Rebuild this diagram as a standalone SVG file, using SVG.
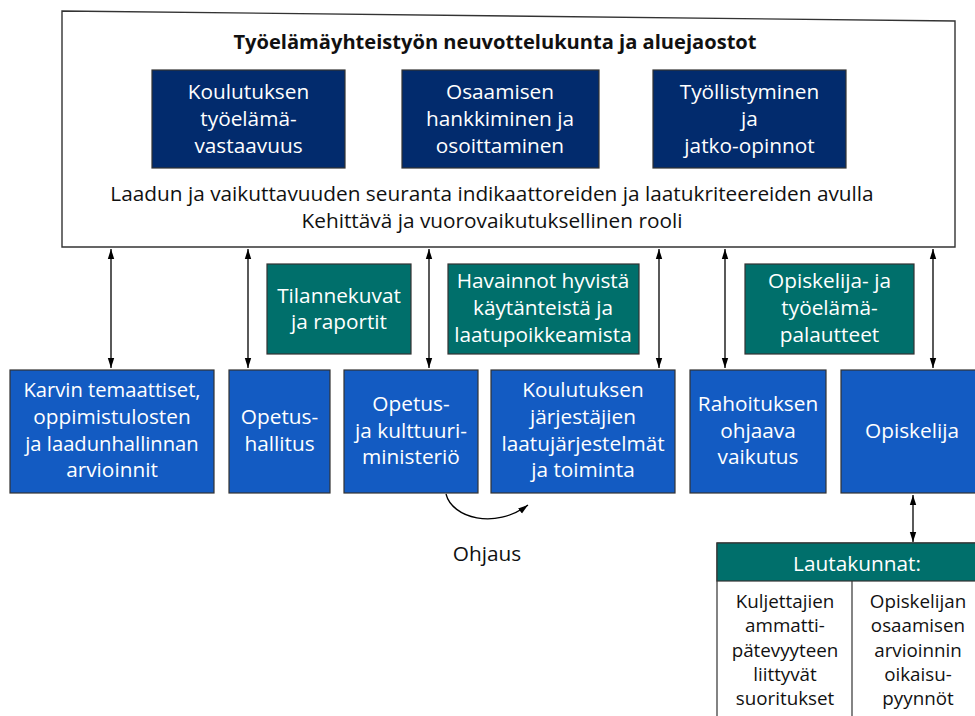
<svg xmlns="http://www.w3.org/2000/svg" width="975" height="716" viewBox="0 0 975 716">
<style>
text{font-family:"Open Sans","Noto Sans",sans-serif;font-size:20.8px;text-anchor:middle}
.w{fill:#ffffff}
.k{fill:#111111}
.sm{font-size:18.8px}
.ttl{font-size:20.1px;font-weight:bold}
.nar{font-size:20.2px}
.navy{fill:#022b6d;stroke:#333333;stroke-width:1.2}
.teal{fill:#006f6b;stroke:#333333;stroke-width:1.2}
.blue{fill:#135bc2;stroke:#333333;stroke-width:1.2}
.conn{stroke:#000000;stroke-width:1.3;fill:none}
</style>
<defs>
<marker id="ah" viewBox="0 0 10 10" refX="10" refY="5" markerWidth="10" markerHeight="10" markerUnits="userSpaceOnUse" orient="auto-start-reverse">
<path d="M0,1.8 L10,5 L0,8.2 Z" fill="#000000"/>
</marker>
</defs>
<rect width="975" height="716" fill="#ffffff"/>
<g id="outer">
<polygon points="62,11 955,21 955,247 62,247" fill="#ffffff" stroke="#333333" stroke-width="1.4"/>
<text class="k ttl" x="495" y="49">Työelämäyhteistyön neuvottelukunta ja aluejaostot</text>
<text class="k" x="492" y="201">Laadun ja vaikuttavuuden seuranta indikaattoreiden ja laatukriteereiden avulla</text>
<text class="k" x="492" y="228">Kehittävä ja vuorovaikutuksellinen rooli</text>
</g>
<g id="n1">
<rect class="navy" x="152" y="70" width="193" height="98"/>
<text class="w" x="248.5" y="99">Koulutuksen</text>
<text class="w" x="248.5" y="126">työelämä-</text>
<text class="w" x="248.5" y="153">vastaavuus</text>
</g>
<g id="n2">
<rect class="navy" x="402" y="70" width="197" height="98"/>
<text class="w" x="500" y="99">Osaamisen</text>
<text class="w" x="500" y="126">hankkiminen ja</text>
<text class="w" x="500" y="153">osoittaminen</text>
</g>
<g id="n3">
<rect class="navy" x="653" y="70" width="193" height="98"/>
<text class="w" x="749.5" y="99">Työllistyminen</text>
<text class="w" x="749.5" y="126">ja</text>
<text class="w" x="749.5" y="153">jatko-opinnot</text>
</g>
<g id="g1">
<rect class="teal" x="267" y="264" width="144" height="90"/>
<text class="w" x="339" y="303">Tilannekuvat</text>
<text class="w" x="339" y="329">ja raportit</text>
</g>
<g id="g2">
<rect class="teal" x="448" y="264" width="191" height="90"/>
<text class="w" x="543" y="288">Havainnot hyvistä</text>
<text class="w" x="543" y="315">käytänteistä ja</text>
<text class="w" x="543" y="342">laatupoikkeamista</text>
</g>
<g id="g3">
<rect class="teal" x="745" y="264" width="169" height="90"/>
<text class="w" x="829.5" y="288">Opiskelija- ja</text>
<text class="w" x="829.5" y="315">työelämä-</text>
<text class="w" x="829.5" y="342">palautteet</text>
</g>
<g id="b1">
<rect class="blue" x="10" y="370" width="204" height="123"/>
<text class="w nar" x="112" y="397">Karvin temaattiset,</text>
<text class="w" x="112" y="424">oppimistulosten</text>
<text class="w nar" x="112" y="451">ja laadunhallinnan</text>
<text class="w" x="112" y="477">arvioinnit</text>
</g>
<g id="b2">
<rect class="blue" x="229" y="370" width="101" height="123"/>
<text class="w" x="279.5" y="424">Opetus-</text>
<text class="w" x="279.5" y="451">hallitus</text>
</g>
<g id="b3">
<rect class="blue" x="344" y="370" width="134" height="123"/>
<text class="w" x="411" y="411">Opetus-</text>
<text class="w" x="411" y="438">ja kulttuuri-</text>
<text class="w" x="411" y="464">ministeriö</text>
</g>
<g id="b4">
<rect class="blue" x="491" y="370" width="184" height="123"/>
<text class="w" x="583" y="397">Koulutuksen</text>
<text class="w" x="583" y="424">järjestäjien</text>
<text class="w" x="583" y="451">laatujärjestelmät</text>
<text class="w" x="583" y="477">ja toiminta</text>
</g>
<g id="b5">
<rect class="blue" x="690" y="370" width="136" height="123"/>
<text class="w" x="758" y="411">Rahoituksen</text>
<text class="w" x="758" y="438">ohjaava</text>
<text class="w" x="758" y="464">vaikutus</text>
</g>
<g id="b6">
<rect class="blue" x="841" y="370" width="150" height="123"/>
<text class="w" x="912" y="438">Opiskelija</text>
</g>
<g id="lautakunnat">
<rect x="717" y="543" width="280" height="200" fill="#ffffff" stroke="#333333" stroke-width="1.2"/>
<rect x="717" y="543" width="280" height="38" fill="#006f6b" stroke="#333333" stroke-width="1.2"/>
<line x1="852" y1="581" x2="852" y2="716" stroke="#333333" stroke-width="1.2"/>
<text class="w" x="857" y="571">Lautakunnat:</text>
<text class="k sm" x="785" y="608">Kuljettajien</text>
<text class="k sm" x="785" y="632">ammatti-</text>
<text class="k sm" x="785" y="657">pätevyyteen</text>
<text class="k sm" x="785" y="681">liittyvät</text>
<text class="k sm" x="785" y="705">suoritukset</text>
<text class="k sm" x="918" y="608">Opiskelijan</text>
<text class="k sm" x="918" y="632">osaamisen</text>
<text class="k sm" x="918" y="657">arvioinnin</text>
<text class="k sm" x="918" y="681">oikaisu-</text>
<text class="k sm" x="918" y="705">pyynnöt</text>
</g>
<g id="ohjaus-label">
<text class="k" x="487" y="561">Ohjaus</text>
</g>
<g id="connectors">
<line class="conn" x1="111" y1="249" x2="111" y2="368" marker-start="url(#ah)" marker-end="url(#ah)"/>
<line class="conn" x1="248" y1="249" x2="248" y2="368" marker-start="url(#ah)" marker-end="url(#ah)"/>
<line class="conn" x1="429" y1="249" x2="429" y2="368" marker-start="url(#ah)" marker-end="url(#ah)"/>
<line class="conn" x1="659" y1="249" x2="659" y2="368" marker-start="url(#ah)" marker-end="url(#ah)"/>
<line class="conn" x1="725" y1="249" x2="725" y2="368" marker-start="url(#ah)" marker-end="url(#ah)"/>
<line class="conn" x1="933" y1="249" x2="933" y2="368" marker-start="url(#ah)" marker-end="url(#ah)"/>
<line class="conn" x1="913" y1="495" x2="913" y2="542" marker-start="url(#ah)" marker-end="url(#ah)"/>
<path class="conn" d="M446,494 C452,518 495,530 528,505" marker-end="url(#ah)"/>
</g>
</svg>
